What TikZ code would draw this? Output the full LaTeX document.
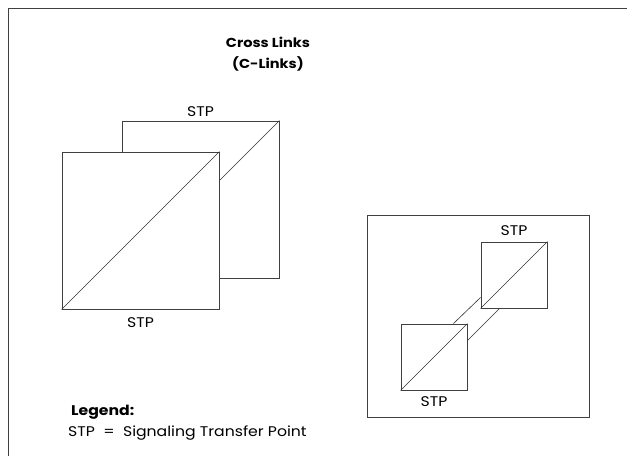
\documentclass[tikz,border=0pt]{standalone}
\usepackage{fontspec}
\setmainfont[FakeStretch=1.12]{Poppins}
\usetikzlibrary{positioning, calc}

\begin{document}
\begin{tikzpicture}[x=1pt, y=-1pt, node distance=3pt,
          stp/.style={rectangle, draw=black!75, fill=white, line width=0.9pt, inner sep=0pt},
          big/.style={stp, minimum size=157pt},
          small/.style={stp, minimum size=66pt},
          diag/.style={draw=black!80, line width=0.6pt},
          lbl/.style={font=\fontsize{14}{16}\selectfont, inner sep=1pt},
          title/.style={font=\fontsize{13}{16}\selectfont\bfseries}]

        \useasboundingbox (0,0) rectangle (627,456);
        \draw [black!75, line width=0.9pt] (8,456) -- (8,8) -- (627,8);

        \node [title] (title) at (268,42) {Cross Links};
        \node [title] (subtitle) at (268,64) {(C-Links)};

        % left pair of STPs
        \node [big] (back) at (200.5,199.5) {};
        \draw [diag] (back.south west) -- (back.north east);
        \node [big] (front) at (140.5,230.5) {};
        \draw [diag] (front.south west) -- (front.north east);
        \node [lbl, above=of back] (backlbl) {STP};
        \node [lbl, below=7pt of front] (frontlbl) {STP};

        % right mated pair
        \node [stp, minimum width=222pt, minimum height=202pt] (pair) at (478,316) {};
        \node [small] (upper) at (514,275) {};
        \node [small] (lower) at (434,357) {};
        \draw [diag] (upper.south west) -- (upper.north east);
        \draw [diag] (lower.south west) -- (lower.north east);
        \draw [diag] ($(lower.north east)+(-14,0)$) -- ($(upper.south west)+(0,-11)$);
        \draw [diag] ($(lower.north east)+(0,17)$) -- ($(upper.south west)+(19,0)$);
        \node [lbl, above=5pt of upper] (upperlbl) {STP};
        \node [lbl, below=5pt of lower] (lowerlbl) {STP};

        % legend
        \node [lbl, font=\fontsize{14}{16}\selectfont\bfseries, anchor=west] (legend) at (70,412) {Legend:};
        \node [lbl, anchor=west] (legtext) at (67,433) {STP \ = \ Signaling Transfer Point};
      \end{tikzpicture}
\end{document}
